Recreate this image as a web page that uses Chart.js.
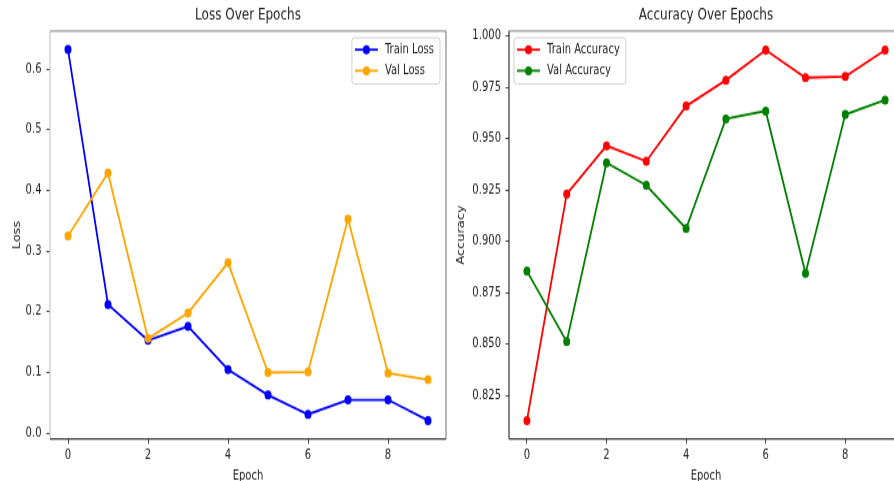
<!DOCTYPE html>
<html>
<head>
<meta charset="utf-8">
<script src="https://cdn.jsdelivr.net/npm/chart.js@4.4.1/dist/chart.umd.min.js"></script>
<style>
  html, body { margin: 0; padding: 0; background: #fff; overflow: hidden; width: 894px; height: 481px; }
  .panel { position: absolute; top: 0; transform-origin: 0 0; transform: scaleY(1.3); }
  #lossPanel { left: 0; }
  #accPanel { left: 450px; }
</style>
</head>
<body>
<div class="panel" id="lossPanel"><canvas id="lossCanvas" width="460" height="370"></canvas></div>
<div class="panel" id="accPanel"><canvas id="accCanvas" width="470" height="370"></canvas></div>
<script>
// values
const epochs = [0, 1, 2, 3, 4, 5, 6, 7, 8, 9];
const trainLoss = [0.632, 0.212, 0.153, 0.176, 0.105, 0.063, 0.031, 0.055, 0.055, 0.021];
const valLoss = [0.325, 0.429, 0.156, 0.198, 0.281, 0.100, 0.101, 0.353, 0.099, 0.088];
const trainAcc = [0.813, 0.923, 0.9465, 0.939, 0.9658, 0.9784, 0.993, 0.9796, 0.9802, 0.993];
const valAcc = [0.8856, 0.8513, 0.9382, 0.9273, 0.9063, 0.9596, 0.9634, 0.8845, 0.9617, 0.9687];

const epochTicks = [0, 2, 4, 6, 8];
const lossTicks = [0.0, 0.1, 0.2, 0.3, 0.4, 0.5, 0.6];
const lossTickLabels = ['0.0', '0.1', '0.2', '0.3', '0.4', '0.5', '0.6'];
const accTicks = [0.825, 0.85, 0.875, 0.9, 0.925, 0.95, 0.975, 1.0];
const accTickLabels = ['0.825', '0.850', '0.875', '0.900', '0.925', '0.950', '0.975', '1.000'];

const FONT = '"DejaVu Sans", sans-serif';
const INK = '#222';

// axes frame + matplotlib style legend inside the plot
const frameAndLegend = {
    id: 'frameAndLegend',
    afterDatasetsDraw(chart, args, opts) {
        const ctx = chart.ctx;
        const a = chart.chartArea;
        const sp = opts.spines;
        ctx.save();
        ctx.lineWidth = 1.2;
        const edge = (color, x1, y1, x2, y2) => {
            ctx.strokeStyle = color;
            ctx.beginPath();
            ctx.moveTo(x1, y1);
            ctx.lineTo(x2, y2);
            ctx.stroke();
        };
        edge(sp.top, a.left, a.top, a.right, a.top);
        edge(sp.right, a.right, a.top, a.right, a.bottom);
        edge(sp.left, a.left, a.top, a.left, a.bottom);
        edge(sp.bottom, a.left, a.bottom, a.right, a.bottom);

        ctx.font = '10px ' + FONT;
        const sets = chart.data.datasets;
        const textW = Math.max(...sets.map(d => ctx.measureText(d.label).width));
        const w = 33 + textW + 6;
        const h = 35.6;
        const x = opts.side === 'right' ? a.right - 6 - w : a.left + 5;
        const y = a.top + 5.2;
        ctx.beginPath();
        ctx.roundRect(x, y, w, h, 2.5);
        ctx.fillStyle = 'rgba(255,255,255,0.8)';
        ctx.fill();
        ctx.strokeStyle = '#d0d0d0';
        ctx.lineWidth = 1;
        ctx.stroke();

        sets.forEach((d, i) => {
            const cy = y + 9.2 + i * 16.2;
            ctx.strokeStyle = d.borderColor;
            ctx.lineWidth = 1.8;
            ctx.beginPath();
            ctx.moveTo(x + 3, cy);
            ctx.lineTo(x + 26, cy);
            ctx.stroke();
            ctx.fillStyle = d.borderColor;
            ctx.beginPath();
            ctx.arc(x + 14.5, cy, 3.5, 0, Math.PI * 2);
            ctx.fill();
            ctx.fillStyle = INK;
            ctx.textBaseline = 'middle';
            ctx.textAlign = 'left';
            ctx.fillText(d.label, x + 33, cy);
        });
        ctx.restore();
    }
};

function series(label, values, color, order) {
    return {
        label: label,
        data: values.map((v, i) => ({ x: epochs[i], y: v })),
        borderColor: color,
        backgroundColor: color,
        borderWidth: 1.8,
        pointRadius: 3.5,
        pointBorderWidth: 0,
        pointBackgroundColor: color,
        tension: 0,
        order: order
    };
}

function makeChart(canvas, cfg) {
    return new Chart(canvas, {
        type: 'line',
        data: { datasets: cfg.datasets },
        plugins: [frameAndLegend],
        options: {
            responsive: false,
            animation: false,
            layout: { padding: { left: 0, right: cfg.padRight, top: 0, bottom: 0 } },
            scales: {
                x: {
                    type: 'linear',
                    min: -0.45,
                    max: 9.45,
                    afterBuildTicks: s => { s.ticks = epochTicks.map(v => ({ value: v })); },
                    afterFit: s => { s.height = 32.3; },
                    grid: { drawOnChartArea: false, drawTicks: true, tickLength: 3.5, color: '#444' },
                    border: { display: false },
                    ticks: { color: INK, font: { family: FONT, size: 10 }, padding: 2.9, maxRotation: 0 },
                    title: { display: true, text: 'Epoch', color: INK, font: { family: FONT, size: 10 }, padding: { top: 0, bottom: -2 } }
                },
                y: {
                    min: cfg.yMin,
                    max: cfg.yMax,
                    afterBuildTicks: s => { s.ticks = cfg.yTicks.map(v => ({ value: v })); },
                    afterFit: s => { s.width = cfg.yWidth; },
                    grid: { drawOnChartArea: false, drawTicks: true, tickLength: 3.5, color: '#444' },
                    border: { display: false },
                    ticks: {
                        color: INK,
                        font: { family: FONT, size: 10 },
                        padding: cfg.yPad,
                        callback: (v, i) => cfg.yLabels[i]
                    },
                    title: { display: true, text: cfg.yTitle, color: INK, font: { family: FONT, size: 10 }, padding: { top: cfg.yTitlePad, bottom: 0 } }
                }
            },
            plugins: {
                legend: { display: false },
                tooltip: { enabled: false },
                title: {
                    display: true,
                    text: cfg.title,
                    fullSize: false,
                    color: INK,
                    font: { family: FONT, size: 12, weight: 'normal' },
                    padding: { top: 5.1, bottom: 4.3 }
                },
                frameAndLegend: { side: cfg.legendSide, spines: cfg.spines }
            }
        }
    });
}

makeChart(document.getElementById('lossCanvas'), {
    title: 'Loss Over Epochs',
    yTitle: 'Loss',
    datasets: [
        series('Train Loss', trainLoss, '#0000ff', 1),
        series('Val Loss', valLoss, '#ffa500', 0)
    ],
    yMin: -0.0096, yMax: 0.6626,
    yTicks: lossTicks, yLabels: lossTickLabels,
    yWidth: 50, yPad: 5, yTitlePad: 11,
    padRight: 14,
    legendSide: 'right',
    spines: { left: '#c8c8c8', top: '#999', right: '#888', bottom: '#333' }
});

makeChart(document.getElementById('accCanvas'), {
    title: 'Accuracy Over Epochs',
    yTitle: 'Accuracy',
    datasets: [
        series('Train Accuracy', trainAcc, '#ff0000', 1),
        series('Val Accuracy', valAcc, '#008000', 0)
    ],
    yMin: 0.804, yMax: 1.0023,
    yTicks: accTicks, yLabels: accTickLabels,
    yWidth: 59, yPad: 4.5, yTitlePad: 5,
    padRight: 17,
    legendSide: 'left',
    spines: { left: '#333', top: '#999', right: '#888', bottom: '#333' }
});
</script>
</body>
</html>
